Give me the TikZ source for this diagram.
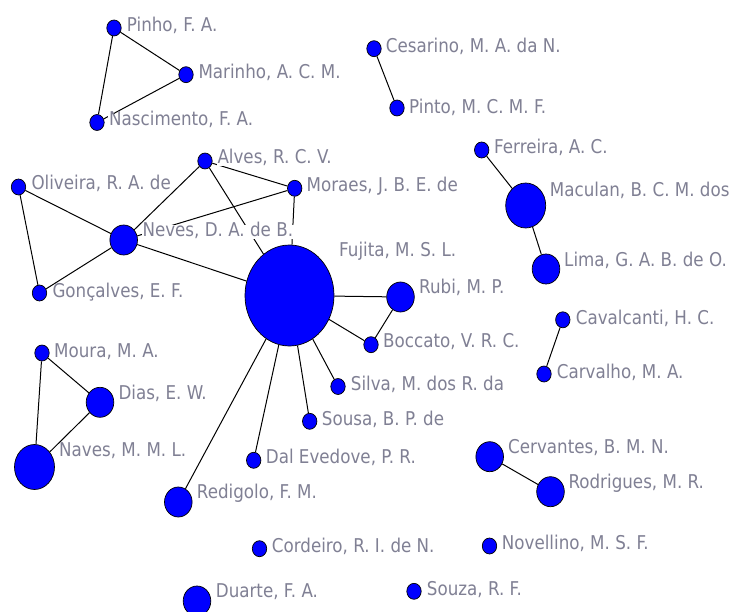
\documentclass[tikz,border=0pt]{standalone}
\usepackage{fontspec}
\setmainfont{DejaVu Sans}[FakeStretch=0.88]
\usetikzlibrary{shapes.geometric}
\definecolor{autor}{RGB}{0,0,255}
\definecolor{nome}{RGB}{128,128,148}

\begin{document}
\begin{tikzpicture}[x=1pt, y=-1pt,
		au/.style={ellipse, draw=black, line width=0.7pt, fill=autor, inner sep=0pt},
		s/.style={au, minimum width=14.4pt, minimum height=16pt},
		m/.style={au, minimum width=27.6pt, minimum height=30pt},
		l/.style={au, minimum width=40pt, minimum height=45pt},
		xl/.style={au, minimum width=89pt, minimum height=101pt},
		lbl/.style={anchor=base west, xshift=-2pt, fill=white, inner sep=1pt,
			text height=1.1em, text depth=0.14em, text=nome,
			font=\fontsize{19}{22}\selectfont},
		lig/.style={black, line width=1pt}]
	\useasboundingbox (0, 0) rectangle (738, 612);
	
	% autores
	\node[s] (pinho) at (114, 28) {};
	\node[s] (marinho) at (186, 74.7) {};
	\node[s] (nascimento) at (97, 122.5) {};
	\node[s] (cesarino) at (374, 48.7) {};
	\node[s] (pinto) at (397, 108) {};
	\node[s] (ferreira) at (481.7, 150) {};
	\node[l] (maculan) at (525.7, 205.5) {};
	\node[m] (lima) at (546, 269) {};
	\node[s] (alves) at (205, 161) {};
	\node[s] (oliveira) at (18.5, 187) {};
	\node[s] (moraes) at (294.7, 188.3) {};
	\node[m] (neves) at (123.7, 240) {};
	\node[s] (goncalves) at (39.5, 293) {};
	\node[xl] (fujita) at (289.5, 295.5) {};
	\node[m] (rubi) at (400.5, 297) {};
	\node[s] (boccato) at (371, 344.7) {};
	\node[s] (silva) at (338, 386.5) {};
	\node[s] (sousa) at (309.7, 421.3) {};
	\node[s] (dalevedove) at (253.7, 460.3) {};
	\node[m] (redigolo) at (178.3, 502) {};
	\node[s] (moura) at (42, 353) {};
	\node[m] (dias) at (100, 402.3) {};
	\node[l] (naves) at (34.5, 467) {};
	\node[s] (cavalcanti) at (562.8, 319.8) {};
	\node[s] (carvalho) at (544, 374) {};
	\node[m] (cervantes) at (489.7, 456.7) {};
	\node[m] (rodrigues) at (550.5, 491.7) {};
	\node[s] (cordeiro) at (259.5, 548.7) {};
	\node[s] (novellino) at (489.5, 546) {};
	\node[m] (duarte) at (197, 601) {};
	\node[s] (souza) at (414, 591.3) {};
	
	% coautorias
	\foreach \a/\b in {pinho/marinho, pinho/nascimento, marinho/nascimento,
		cesarino/pinto, ferreira/maculan, maculan/lima,
		alves/moraes, alves/neves, alves/fujita, moraes/neves, moraes/fujita,
		oliveira/neves, oliveira/goncalves, neves/goncalves, neves/fujita,
		fujita/rubi, fujita/boccato, rubi/boccato, fujita/silva, fujita/sousa,
		fujita/dalevedove, fujita/redigolo,
		moura/dias, moura/naves, dias/naves,
		cavalcanti/carvalho, cervantes/rodrigues}
		\draw[lig] (\a) -- (\b);
	
	% nomes
	\node[lbl] (pinho-l) at (127.7, 31.7) {Pinho, F. A.};
	\node[lbl] (marinho-l) at (199.3, 78.3) {Marinho, A. C. M.};
	\node[lbl] (nascimento-l) at (110, 126) {Nascimento, F. A.};
	\node[lbl] (cesarino-l) at (386.7, 52.7) {Cesarino, M. A. da N.};
	\node[lbl] (pinto-l) at (410, 113.3) {Pinto, M. C. M. F.};
	\node[lbl] (ferreira-l) at (495, 153.3) {Ferreira, A. C.};
	\node[lbl] (maculan-l) at (550.7, 196.7) {Maculan, B. C. M. dos};
	\node[lbl] (lima-l) at (565, 266.7) {Lima, G. A. B. de O.};
	\node[lbl] (alves-l) at (218.3, 163.3) {Alves, R. C. V.};
	\node[lbl] (oliveira-l) at (32.3, 190) {Oliveira, R. A. de};
	\node[lbl] (moraes-l) at (307.5, 192) {Moraes, J. B. E. de};
	\node[lbl] (neves-l) at (143.3, 236.7) {Neves, D. A. de B.};
	\node[lbl] (goncalves-l) at (53.3, 297.7) {Gonçalves, E. F.};
	\node[lbl] (fujita-l) at (340, 256.7) {Fujita, M. S. L.};
	\node[lbl] (rubi-l) at (420, 293.3) {Rubi, M. P.};
	\node[lbl] (boccato-l) at (384, 347.3) {Boccato, V. R. C.};
	\node[lbl] (silva-l) at (351.7, 390) {Silva, M. dos R. da};
	\node[lbl] (sousa-l) at (322.7, 425) {Sousa, B. P. de};
	\node[lbl] (dalevedove-l) at (266.7, 463.3) {Dal Evedove, P. R.};
	\node[lbl] (redigolo-l) at (197.7, 498.3) {Redigolo, F. M.};
	\node[lbl] (moura-l) at (55, 357.3) {Moura, M. A.};
	\node[lbl] (dias-l) at (119.3, 399) {Dias, E. W.};
	\node[lbl] (naves-l) at (60, 456.7) {Naves, M. M. L.};
	\node[lbl] (cavalcanti-l) at (576.7, 324) {Cavalcanti, H. C.};
	\node[lbl] (carvalho-l) at (557.7, 378.3) {Carvalho, M. A.};
	\node[lbl] (cervantes-l) at (509, 453.3) {Cervantes, B. M. N.};
	\node[lbl] (rodrigues-l) at (569.3, 488.3) {Rodrigues, M. R.};
	\node[lbl] (cordeiro-l) at (272.7, 552.7) {Cordeiro, R. I. de N.};
	\node[lbl] (novellino-l) at (502.7, 549.3) {Novellino, M. S. F.};
	\node[lbl] (duarte-l) at (216.7, 597.7) {Duarte, F. A.};
	\node[lbl] (souza-l) at (427.7, 595) {Souza, R. F.};
\end{tikzpicture}
\end{document}
